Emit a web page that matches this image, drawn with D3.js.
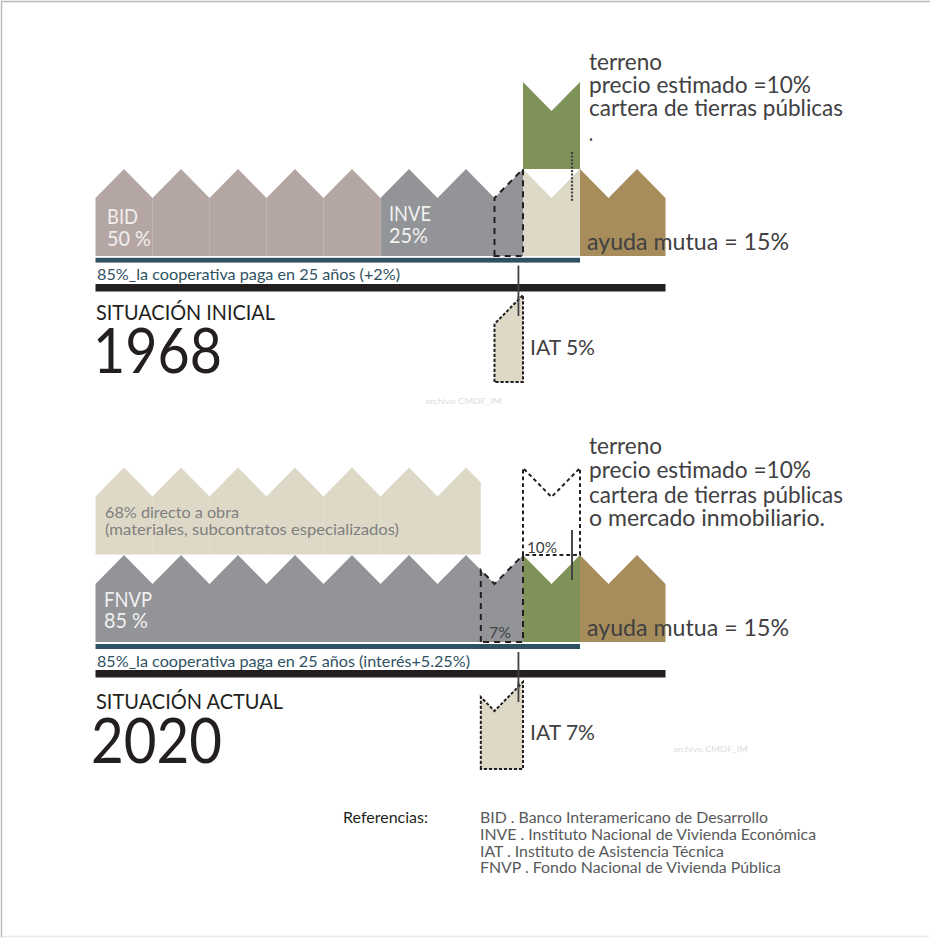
<!DOCTYPE html>
<html><head><meta charset="utf-8">
<script src="https://cdn.jsdelivr.net/npm/d3@7"></script>
<style>html,body{margin:0;padding:0;background:#fff;overflow:hidden}svg{display:block}text{font-family:"Lato","Open Sans",sans-serif}</style>
</head><body><svg id="c" width="930" height="938"></svg>
<script>
// shares, % of the total cost of the housing cooperative
const segments1968 = ["BID","INVE","terreno","ayuda mutua"];
const shares1968 = [50,25,10,15];
const iat1968 = 5;
const segments2020 = ["FNVP","terreno","ayuda mutua"];
const shares2020 = [75,10,15];
const iat2020 = 7.4;      // drawn width, labelled 7%
const directoObra2020 = 67.6; // drawn width, labelled 68%
const loanShare = 85;
const referencias = ["BID . Banco Interamericano de Desarrollo","INVE . Instituto Nacional de Vivienda Económica","IAT . Instituto de Asistencia Técnica","FNVP . Fondo Nacional de Vivienda Pública"];
const terreno1968 = ["terreno","precio estimado =10%","cartera de tierras públicas","."];
const terreno2020 = ["terreno","precio estimado =10%","cartera de tierras públicas","o mercado inmobiliario."];

const C = {bid:"#b4a6a3",inve:"#929497",cream:"#ded9c7",green:"#7f9257",brown:"#a78c5c",teal:"#2f5263",black:"#231f20",text:"#414042",sep:"#bfb6bf"};
const svg = d3.select("#c");
const x = d3.scaleLinear().domain([0,100]).range([95.5,665.5]);
const houseLevel = d3.scaleLinear().domain([0,1]).range([0,87]); // 1 = roof apex
const shoulder = 2/3;
const roof = p => { const m = ((p-5)%10+10)%10; const d = Math.min(m,10-m); return houseLevel(1-(d/5)*(1-shoulder)); };
const line = d3.line().x(d=>x(d[0])).y(d=>d[1]);
function housePath(a,b,base){
  const ps = [a,...d3.range(Math.ceil(a/5)*5,b+1e-6,5).filter(p=>p>a&&p<b),b];
  return line([[a,base],...ps.map(p=>[p,base-roof(p)]),[b,base]])+"Z";
}
function house(a,b,base,fill,stroke,dash,sw){
  svg.append("path").attr("d",housePath(a,b,base)).attr("fill",fill||"none")
    .attr("stroke",stroke||"none").attr("stroke-width",sw||0).attr("stroke-dasharray",dash||null);
}
function label(t,xp,y,w,size,fill,weight){
  const n = svg.append("text").attr("x",xp).attr("y",y).attr("font-size",size).attr("fill",fill||C.text).text(t);
  if(weight) n.attr("font-weight",weight);
  if(w) n.attr("textLength",w).attr("lengthAdjust","spacingAndGlyphs");
}
function seps(a,b,base,col){ d3.range(a,b+1e-6,10).forEach(p=>svg.append("line").attr("x1",x(p)).attr("x2",x(p)).attr("y1",base-roof(p)).attr("y2",base).attr("stroke",col).attr("stroke-width",.8)); }
function vline(p,y1,y2,dash,sw){ svg.append("line").attr("x1",x(p)).attr("x2",x(p)).attr("y1",y1).attr("y2",y2).attr("stroke",C.text).attr("stroke-width",sw).attr("stroke-dasharray",dash||null); }
function bar(a,b,y1,y2,col){ svg.append("rect").attr("x",x(a)).attr("width",x(b)-x(a)).attr("y",y1).attr("height",y2-y1).attr("fill",col); }

// frame
svg.append("path").attr("d","M1.5 938V1.5H930").attr("fill","none").attr("stroke","#b8b8b8").attr("stroke-width",1.4);
svg.append("path").attr("d","M1.5 936.5H929").attr("fill","none").attr("stroke","#e8e8e8").attr("stroke-width",1.4);

// ---- 1968
const b1 = 256;
const e1 = d3.cumsum(shares1968);
house(0,e1[0],b1,C.bid); seps(10,40,b1,C.sep);
house(e1[0],e1[1],b1,C.inve); seps(60,70,b1,"#8d8f92");
house(e1[1],e1[2],b1,C.cream);
house(e1[2],e1[3],b1,C.brown);
house(e1[1],e1[2],b1-87,C.green);
house(e1[1]-iat1968,e1[1],b1,null,C.black,"6 5",2);
vline(83.6,152,201,"2 1.6",2.2);
bar(0,loanShare,257.8,262.6,C.teal);
bar(0,100,284,291.5,C.black);
vline(74.2,265.5,316,null,1.8);
house(e1[1]-iat1968,e1[1],b1+126,C.cream,C.black,"3.2 1.8",2);
vline(74.2,296,316,null,1.8);

label("BID",107,224,31,21,"#f1eeee");
label("50 %",107,246,44,21,"#f1eeee");
label("INVE",389,221,42,21,"#f1f1f1");
label("25%",389,243,39,21,"#f1f1f1");
label("85%_la cooperativa paga en 25 años (+2%)",97,280,303,15,C.teal);
label("SITUACIÓN INICIAL",96,320,179,21,C.black);
label("1968",93,373,129,62,C.black);
label("IAT 5%",530,355,65,22);
label("ayuda mutua = 15%",587,250,202,22.5);
[[0,70,73],[1,93,222],[2,116,254],[3,141,4]].forEach(d=>label(terreno1968[d[0]],589,d[1],d[2],23));
label("archivo CMDF_IM",425,404,77,8,"#dcdcdc");

// ---- 2020
const b2 = 642, bTop = 554.5;
const e2 = d3.cumsum(shares2020);
house(0,directoObra2020,bTop,C.cream); seps(10,60,bTop,"#e3dfce");
house(0,e2[0],b2,C.inve); seps(10,70,b2,"#8f9194");
house(e2[0],e2[1],b2,C.green);
house(e2[1],e2[2],b2,C.brown);
house(e2[0],e2[1],b2-87,null,C.black,"3.8 3",2);
house(e2[0]-iat2020,e2[0],b2,null,C.black,"6 5",2);
vline(83.6,530,580,null,1.9);
bar(0,loanShare,644,649,C.teal);
bar(0,100,670,677.5,C.black);
vline(74.2,652,702,null,1.8);
house(e2[0]-iat2020,e2[0],b2+127,C.cream,C.black,"3.2 1.8",2);
vline(74.2,682,702,null,1.8);

label("68% directo a obra",105,518,134,16,"#7f7f7f");
label("(materiales, subcontratos especializados)",105,535,294,16,"#7f7f7f");
label("FNVP",104,607,48,21,"#f1f1f1");
label("85 %",104,628,44,21,"#f1f1f1");
label("7%",489,638,22,15.5);
label("10%",527,553,30,15.5);
label("85%_la cooperativa paga en 25 años (interés+5.25%)",97,667,373,15,C.teal);
label("SITUACIÓN ACTUAL",96,709,187,21,C.black);
label("2020",91,763,131,62,C.black);
label("IAT 7%",530,740,65,22);
label("ayuda mutua = 15%",587,636,202,22.5);
[[0,454,73],[1,478,222],[2,503,254],[3,526,236]].forEach(d=>label(terreno2020[d[0]],589,d[1],d[2],23));
label("archivo CMDF_IM",673,752,75,8,"#dcdcdc");

// ---- referencias
label("Referencias:",343,823,85,15,C.black);
[[823,288],[840,336],[856.5,244],[873,301]].forEach((d,i)=>label(referencias[i],480,d[0],d[1],15.5,"#58595b"));
</script></body></html>
